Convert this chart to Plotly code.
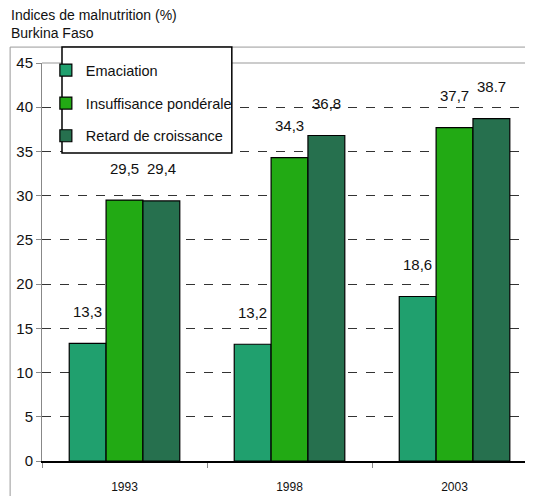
import plotly.graph_objects as go

years = ["1993", "1998", "2003"]
series_names = ["Emaciation", "Insuffisance pondérale", "Retard de croissance"]
emaciation = [13.3, 13.2, 18.6]
insuffisance = [29.5, 34.3, 37.7]
retard = [29.4, 36.8, 38.7]
emaciation_labels = ["13,3", "13,2", "18,6"]
insuffisance_labels = ["29,5", "34,3", "37,7"]
retard_labels = ["29,4", "36,8", "38.7"]
y_ticks = [0, 5, 10, 15, 20, 25, 30, 35, 40, 45]

FONT = "Liberation Sans, Arial, sans-serif"
colors = ["#20a06e", "#22aa14", "#26704e"]
values = [emaciation, insuffisance, retard]
labels = [emaciation_labels, insuffisance_labels, retard_labels]
legend_ids = ["legend", "legend2", "legend3"]
legend_y = [0.982, 0.899, 0.817]

fig = go.Figure()
for name, vals, col, lid in zip(series_names, values, colors, legend_ids):
    fig.add_trace(go.Bar(
        x=years, y=vals, name=name, legend=lid,
        marker=dict(color=col, line=dict(color="#000000", width=1.2)),
    ))

annotations = []
offsets = [-1, 0, 1]
for i, (vals, labs) in enumerate(zip(values, labels)):
    for j, (v, t) in enumerate(zip(vals, labs)):
        annotations.append(dict(
            x=j, y=v, xref="x", yref="y", text=t, showarrow=False,
            xshift=offsets[i] * 37, yshift=32,
            font=dict(family=FONT, size=15, color="#111111"),
        ))

annotations.append(dict(
    x=-0.068, y=1.145, xref="paper", yref="paper", xanchor="left", yanchor="top",
    text="Indices de malnutrition (%)<br>Burkina Faso", align="left", showarrow=False,
    font=dict(family=FONT, size=14, color="#111111"),
))

legend_common = dict(
    xanchor="left", yanchor="middle", bgcolor="rgba(0,0,0,0)", borderwidth=0,
    font=dict(family=FONT, size=14.5, color="#111111"), itemwidth=30,
)
layout_legends = {}
for lid, ly in zip(legend_ids, legend_y):
    layout_legends[lid] = dict(x=0.008, y=ly, **legend_common)

fig.update_layout(
    width=517, height=488,
    margin=dict(l=34, r=0, t=55, b=35),
    paper_bgcolor="white", plot_bgcolor="white",
    barmode="group", bargap=0.33, bargroupgap=0,
    showlegend=True,
    annotations=annotations,
    shapes=[
        dict(type="rect", xref="paper", yref="paper",
             x0=-0.066, x1=1.2, y0=-0.3, y1=1.04,
             line=dict(color="#999999", width=1), layer="below"),
        dict(type="line", xref="paper", yref="paper",
             x0=0, x1=1, y0=1, y1=1,
             line=dict(color="#999999", width=1.2), layer="below"),
        dict(type="rect", xref="paper", yref="paper",
             x0=0.0414, x1=0.393, y0=0.774, y1=1.04,
             fillcolor="white", line=dict(color="#000000", width=1.5), layer="above"),
    ],
    **layout_legends,
)
fig.update_xaxes(
    type="category", range=[-0.5, 2.427], tickson="boundaries", ticks="outside", ticklen=5,
    tickcolor="#888888", showline=True, linecolor="#000000", linewidth=1.5,
    showgrid=False, ticklabelstandoff=14,
    tickfont=dict(family=FONT, size=12, color="#111111"),
)
fig.update_yaxes(
    range=[0, 45], tickvals=y_ticks, ticks="outside", ticklen=5,
    tickcolor="#888888", showline=True, linecolor="#888888", linewidth=1,
    showgrid=True, gridcolor="#333333", griddash="dash", gridwidth=1,
    zeroline=False, tickfont=dict(family=FONT, size=15, color="#111111"),
)

fig.write_html("out.html")
